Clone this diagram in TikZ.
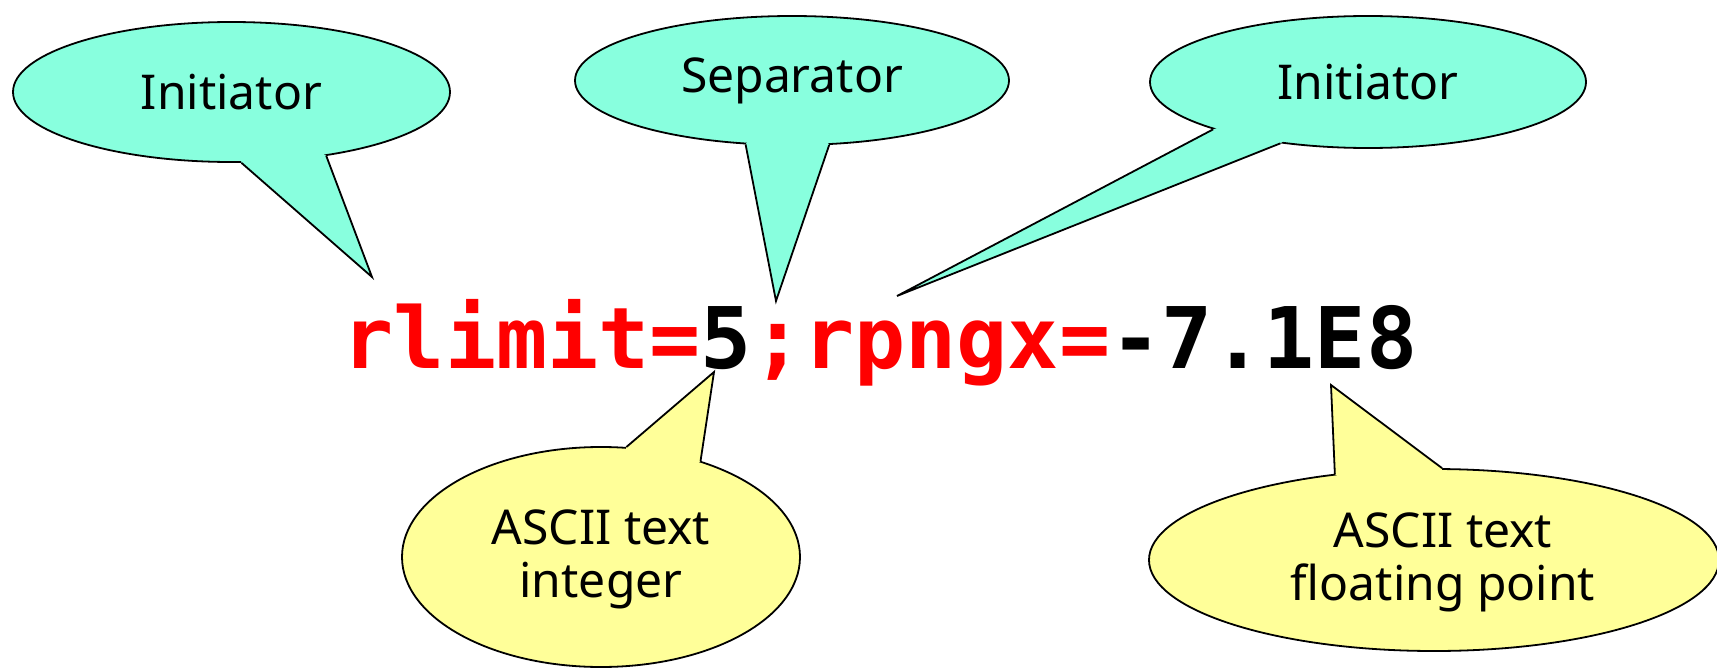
\documentclass[tikz,border=0pt]{standalone}
\usepackage{fontspec}
\setmainfont{Noto Sans}
\newfontfamily\codefont{DejaVu Sans Mono}
\usetikzlibrary{shapes.geometric,calc}
\definecolor{bubbleteal}{HTML}{88FFDE}
\definecolor{bubbleyellow}{HTML}{FFFF99}
\definecolor{keyred}{HTML}{FF0000}
\tikzset{
  bubble/.style={ellipse, draw=black, line width=1.8pt, inner sep=0pt,
    align=center, font=\fontsize{48}{53}\selectfont},
  tealbubble/.style={bubble, fill=bubbleteal},
  yellowbubble/.style={bubble, fill=bubbleyellow},
  tailside/.style={draw=black, line width=1.8pt, line join=miter},
  codetext/.style={anchor=base, inner sep=0pt,
    font=\codefont\bfseries\fontsize{85}{90}\selectfont},
}
% callout tail: node, border angle a, border angle b, tip, fill colour
\newcommand\calltail[5]{%
  \fill[#5] (#1.#2) -- (#4) -- (#1.#3) -- ($(#1.center)!0.85!(#1.#3)$)
    -- ($(#1.center)!0.85!(#1.#2)$) -- cycle;
  \draw[tailside] (#1.#2) -- (#4) -- (#1.#3);
}
\begin{document}
\begin{tikzpicture}[x=1pt,y=1pt]
\useasboundingbox (0,0) rectangle (1717,-669);

% the key/value string
\node[codetext] (code) at (880,-368)
  {\textcolor{keyred}{rlimit=}5\textcolor{keyred}{;rpngx=}-7.1E8};

% bubbles
\node[tealbubble, minimum width=437, minimum height=140] (init1) at (231.5,-92) {Initiator};
\node[tealbubble, minimum width=434, minimum height=129] (sep) at (792,-80.5) {Separator};
\node[tealbubble, minimum width=436, minimum height=132] (init2) at (1368,-82) {Initiator};
\node[yellowbubble, minimum width=398, minimum height=220] (int) at (601,-557)
  {\rule{0pt}{40pt}ASCII text\\integer};
\node[yellowbubble, minimum width=570, minimum height=182] (flt) at (1434,-560)
  {\rule{0pt}{40pt}\hspace*{18pt}ASCII text\\\hspace*{18pt}floating point};

% tail tips
\coordinate (t1) at (372,-277);
\coordinate (t2) at (776,-301);
\coordinate (t3) at (897,-296);
\coordinate (t4) at (714,-372);
\coordinate (t5) at (1331,-385);

% tails
\calltail{init1}{-82.3}{-34.5}{t1}{bubbleteal}
\calltail{sep}{-126.9}{-60.2}{t2}{bubbleteal}
\calltail{init2}{-163.9}{-145.4}{t3}{bubbleteal}
\calltail{int}{77}{44.1}{t4}{bubbleyellow}
\calltail{flt}{139.8}{85.7}{t5}{bubbleyellow}
\end{tikzpicture}
\end{document}
